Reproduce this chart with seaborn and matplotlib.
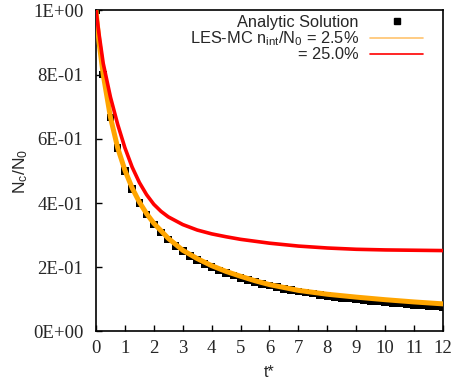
import matplotlib
matplotlib.use("Agg")
import matplotlib.pyplot as plt
import seaborn as sns
import pandas as pd
from matplotlib.lines import Line2D

# --- data ---
t_analytic = [0.0, 0.25, 0.5, 0.75, 1.0, 1.25, 1.5, 1.75, 2.0, 2.25, 2.5, 2.75,
              3.0, 3.25, 3.5, 3.75, 4.0, 4.25, 4.5, 4.75, 5.0, 5.25, 5.5, 5.75,
              6.0, 6.25, 6.5, 6.75, 7.0, 7.25, 7.5, 7.75, 8.0, 8.25, 8.5, 8.75,
              9.0, 9.25, 9.5, 9.75, 10.0, 10.25, 10.5, 10.75, 11.0, 11.25, 11.5, 11.75, 12.0]
n_analytic = [1.000, 0.800, 0.667, 0.571, 0.500, 0.444, 0.400, 0.364, 0.333, 0.308, 0.286, 0.267,
              0.250, 0.235, 0.222, 0.211, 0.200, 0.190, 0.182, 0.174, 0.167, 0.160, 0.154, 0.148,
              0.143, 0.138, 0.133, 0.129, 0.125, 0.121, 0.118, 0.114, 0.111, 0.108, 0.105, 0.103,
              0.100, 0.098, 0.095, 0.093, 0.091, 0.089, 0.087, 0.085, 0.083, 0.082, 0.080, 0.078, 0.077]

t_les_25 = [0.0, 0.1, 0.25, 0.5, 0.75, 1.0, 1.25, 1.5, 1.75, 2.0, 2.5, 3.0, 3.5, 4.0,
            4.5, 5.0, 5.5, 6.0, 7.0, 8.0, 9.0, 10.0, 11.0, 12.0]
n_les_25 = [1.000, 0.905, 0.800, 0.667, 0.572, 0.502, 0.447, 0.403, 0.367, 0.337, 0.290, 0.253,
            0.227, 0.205, 0.187, 0.172, 0.158, 0.146, 0.128, 0.116, 0.107, 0.099, 0.092, 0.086]

t_les_250 = [0.0, 0.1, 0.25, 0.5, 0.75, 1.0, 1.25, 1.5, 1.75, 2.0, 2.25, 2.5, 3.0, 3.5, 4.0,
             4.5, 5.0, 6.0, 7.0, 8.0, 9.0, 10.0, 11.0, 12.0]
n_les_250 = [1.000, 0.930, 0.835, 0.730, 0.645, 0.572, 0.512, 0.464, 0.426, 0.396, 0.374, 0.357,
             0.333, 0.316, 0.304, 0.295, 0.287, 0.275, 0.266, 0.260, 0.256, 0.254, 0.253, 0.252]

x_ticks = [0, 1, 2, 3, 4, 5, 6, 7, 8, 9, 10, 11, 12]
y_ticks = [0.0, 0.2, 0.4, 0.6, 0.8, 1.0]
y_tick_labels = ["0E+00", "2E-01", "4E-01", "6E-01", "8E-01", "1E+00"]

analytic_df = pd.DataFrame({"t": t_analytic, "n": n_analytic})
les25_df = pd.DataFrame({"t": t_les_25, "n": n_les_25})
les250_df = pd.DataFrame({"t": t_les_250, "n": n_les_250})

sns.set_theme(style="white")
plt.rcParams["font.family"] = ["Liberation Sans", "DejaVu Sans"]
plt.rcParams["mathtext.fontset"] = "custom"
plt.rcParams["mathtext.rm"] = "Liberation Sans"
plt.rcParams["mathtext.it"] = "Liberation Sans"

fig = plt.figure(figsize=(4.56, 3.85), dpi=100)
ax = fig.add_axes([0.2105, 0.139, 0.761, 0.834])

sns.scatterplot(data=analytic_df, x="t", y="n", marker="s", s=30, color="black",
                edgecolor="none", ax=ax, zorder=2)
sns.lineplot(data=les25_df, x="t", y="n", color="#ffa500", linewidth=3.6, ax=ax,
             zorder=3, estimator=None, sort=False)
sns.lineplot(data=les250_df, x="t", y="n", color="#ff0000", linewidth=2.6, ax=ax,
             zorder=4, estimator=None, sort=False)

ax.set_xlim(0, 12)
ax.set_ylim(0, 1)
ax.set_xticks(x_ticks)
ax.set_xticklabels([str(v) for v in x_ticks])
ax.set_yticks(y_ticks)
ax.set_yticklabels(y_tick_labels)
for lab in ax.get_xticklabels() + ax.get_yticklabels():
    lab.set_fontfamily("Liberation Serif")
    lab.set_fontsize(13.5)
ax.tick_params(direction="in", length=4, width=1, color="black",
               bottom=True, left=True, top=False, right=False)
ax.tick_params(axis="y", pad=9)
ax.tick_params(axis="x", pad=6)
for sp in ax.spines.values():
    sp.set_color("black")
    sp.set_linewidth(1.2)

ax.set_xlabel("t*", fontsize=11.5, labelpad=6)
ax.set_ylabel(r"N$_c$/N$_0$", fontsize=12.5, labelpad=2)

handles = [
    Line2D([], [], marker="s", color="black", linestyle="none", markersize=4.5),
    Line2D([], [], color="#ffc46e", linewidth=1.2),
    Line2D([], [], color="#ff0000", linewidth=1.2),
]
labels = ["Analytic Solution", r"LES-MC n$_{int}$/N$_0$ = 2.5%", "= 25.0%"]
ax.legend(handles, labels, loc="upper right", frameon=False, markerfirst=False,
          fontsize=11.8, handlelength=3.2, handletextpad=0.7, labelspacing=-0.05,
          borderpad=0, borderaxespad=0, bbox_to_anchor=(0.942, 0.985))

fig.savefig("out.png", dpi=100)
